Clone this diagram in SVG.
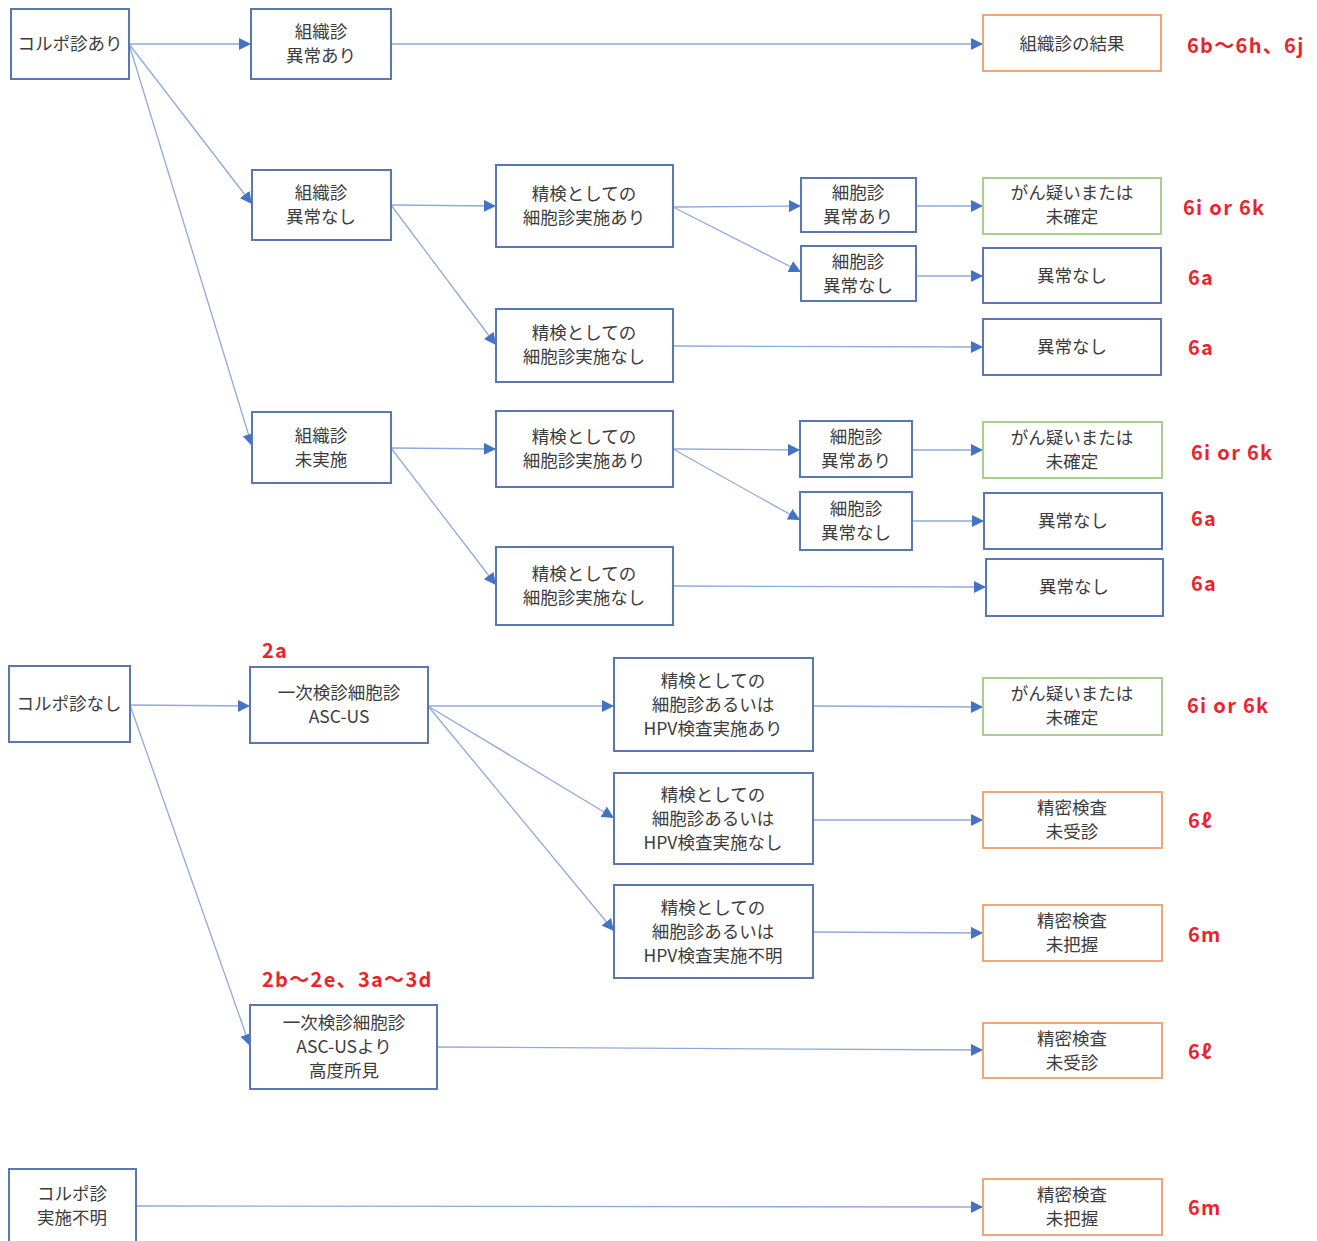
<svg xmlns="http://www.w3.org/2000/svg" width="1317" height="1241" viewBox="0 0 1317 1241">
<defs>
<marker id="arr" markerUnits="userSpaceOnUse" markerWidth="13" markerHeight="12" refX="12" refY="6" orient="auto">
<path d="M0,0 L12,6 L0,12 Z" fill="#4472c4"/>
</marker>
<style>
.n{fill:#fff;stroke:#5a78b0;stroke-width:2}
.g{fill:#fff;stroke:#a9cf8e;stroke-width:2}
.o{fill:#fff;stroke:#f0a67a;stroke-width:2}
.t{font-family:"Noto Sans CJK JP","Noto Sans",sans-serif;font-size:17.5px;fill:#3c3c3c;text-anchor:middle}
.r{font-family:"Noto Sans CJK JP","Noto Sans",sans-serif;font-size:20px;font-weight:bold;fill:#e8252e;letter-spacing:1.3px}
.c{fill:none;stroke:#8faadc;stroke-width:1.3;marker-end:url(#arr)}
</style>
</defs>
<rect width="1317" height="1241" fill="#fff"/>

<g id="connectors">
<line class="c" x1="129" y1="44" x2="251" y2="44"/>
<line class="c" x1="129" y1="44" x2="252" y2="204"/>
<line class="c" x1="129" y1="44" x2="252" y2="446"/>
<line class="c" x1="391" y1="44" x2="983" y2="44"/>
<line class="c" x1="391" y1="205" x2="496" y2="206"/>
<line class="c" x1="391" y1="205" x2="496" y2="345"/>
<line class="c" x1="673" y1="207" x2="801" y2="206"/>
<line class="c" x1="673" y1="207" x2="801" y2="272"/>
<line class="c" x1="916" y1="206" x2="983" y2="206"/>
<line class="c" x1="916" y1="276" x2="983" y2="276"/>
<line class="c" x1="673" y1="346" x2="983" y2="347"/>
<line class="c" x1="391" y1="448" x2="496" y2="449"/>
<line class="c" x1="391" y1="448" x2="496" y2="585"/>
<line class="c" x1="673" y1="449" x2="800" y2="450"/>
<line class="c" x1="673" y1="449" x2="800" y2="520"/>
<line class="c" x1="912" y1="450" x2="983" y2="450"/>
<line class="c" x1="912" y1="521" x2="984" y2="521"/>
<line class="c" x1="673" y1="586" x2="986" y2="587"/>
<line class="c" x1="130" y1="705" x2="250" y2="706"/>
<line class="c" x1="130" y1="705" x2="250" y2="1046"/>
<line class="c" x1="428" y1="706" x2="614" y2="706"/>
<line class="c" x1="428" y1="706" x2="614" y2="818"/>
<line class="c" x1="428" y1="706" x2="614" y2="931"/>
<line class="c" x1="813" y1="706" x2="983" y2="707"/>
<line class="c" x1="813" y1="820" x2="983" y2="820"/>
<line class="c" x1="813" y1="932" x2="983" y2="933"/>
<line class="c" x1="437" y1="1047" x2="983" y2="1050"/>
<line class="c" x1="136" y1="1206" x2="983" y2="1207"/>
</g>

<g id="n1"><rect class="n" x="11" y="9" width="118" height="70"/><text class="t" x="70" y="50">コルポ診あり</text></g>
<g id="n2"><rect class="n" x="251" y="9" width="140" height="70"/><text class="t" x="321" y="38">組織診</text><text class="t" x="321" y="62">異常あり</text></g>
<g id="n3"><rect class="o" x="983" y="15" width="178" height="56"/><text class="t" x="1072" y="50">組織診の結果</text></g>
<g id="n4"><rect class="n" x="252" y="170" width="139" height="70"/><text class="t" x="321" y="199">組織診</text><text class="t" x="321" y="223">異常なし</text></g>
<g id="n5"><rect class="n" x="496" y="165" width="177" height="82"/><text class="t" x="584" y="200">精検としての</text><text class="t" x="584" y="224">細胞診実施あり</text></g>
<g id="n6"><rect class="n" x="801" y="178" width="115" height="54"/><text class="t" x="858" y="199">細胞診</text><text class="t" x="858" y="223">異常あり</text></g>
<g id="n7"><rect class="n" x="801" y="246" width="115" height="55"/><text class="t" x="858" y="268">細胞診</text><text class="t" x="858" y="292">異常なし</text></g>
<g id="n8"><rect class="g" x="983" y="178" width="178" height="56"/><text class="t" x="1072" y="199">がん疑いまたは</text><text class="t" x="1072" y="223">未確定</text></g>
<g id="n9"><rect class="n" x="983" y="248" width="178" height="55"/><text class="t" x="1072" y="282">異常なし</text></g>
<g id="n10"><rect class="n" x="496" y="309" width="177" height="73"/><text class="t" x="584" y="339">精検としての</text><text class="t" x="584" y="363">細胞診実施なし</text></g>
<g id="n11"><rect class="n" x="983" y="319" width="178" height="56"/><text class="t" x="1072" y="353">異常なし</text></g>
<g id="n12"><rect class="n" x="252" y="412" width="139" height="71"/><text class="t" x="321" y="442">組織診</text><text class="t" x="321" y="466">未実施</text></g>
<g id="n13"><rect class="n" x="496" y="411" width="177" height="76"/><text class="t" x="584" y="443">精検としての</text><text class="t" x="584" y="467">細胞診実施あり</text></g>
<g id="n14"><rect class="n" x="800" y="421" width="112" height="56"/><text class="t" x="856" y="443">細胞診</text><text class="t" x="856" y="467">異常あり</text></g>
<g id="n15"><rect class="n" x="800" y="492" width="112" height="58"/><text class="t" x="856" y="515">細胞診</text><text class="t" x="856" y="539">異常なし</text></g>
<g id="n16"><rect class="g" x="983" y="422" width="179" height="56"/><text class="t" x="1072" y="444">がん疑いまたは</text><text class="t" x="1072" y="468">未確定</text></g>
<g id="n17"><rect class="n" x="984" y="493" width="178" height="56"/><text class="t" x="1073" y="527">異常なし</text></g>
<g id="n18"><rect class="n" x="496" y="547" width="177" height="78"/><text class="t" x="584" y="580">精検としての</text><text class="t" x="584" y="604">細胞診実施なし</text></g>
<g id="n19"><rect class="n" x="986" y="559" width="177" height="57"/><text class="t" x="1074" y="593">異常なし</text></g>

<g id="n20"><rect class="n" x="9" y="666" width="121" height="76"/><text class="t" x="69" y="710">コルポ診なし</text></g>
<g id="n21"><rect class="n" x="250" y="667" width="178" height="76"/><text class="t" x="339" y="699">一次検診細胞診</text><text class="t" x="339" y="723">ASC-US</text></g>
<g id="n22"><rect class="n" x="614" y="658" width="199" height="93"/><text class="t" x="713" y="687">精検としての</text><text class="t" x="713" y="711">細胞診あるいは</text><text class="t" x="713" y="735">HPV検査実施あり</text></g>
<g id="n23"><rect class="g" x="983" y="678" width="179" height="57"/><text class="t" x="1072" y="700">がん疑いまたは</text><text class="t" x="1072" y="724">未確定</text></g>
<g id="n24"><rect class="n" x="614" y="773" width="199" height="91"/><text class="t" x="713" y="801">精検としての</text><text class="t" x="713" y="825">細胞診あるいは</text><text class="t" x="713" y="849">HPV検査実施なし</text></g>
<g id="n25"><rect class="o" x="983" y="792" width="179" height="56"/><text class="t" x="1072" y="814">精密検査</text><text class="t" x="1072" y="838">未受診</text></g>
<g id="n26"><rect class="n" x="614" y="885" width="199" height="93"/><text class="t" x="713" y="914">精検としての</text><text class="t" x="713" y="938">細胞診あるいは</text><text class="t" x="713" y="962">HPV検査実施不明</text></g>
<g id="n27"><rect class="o" x="983" y="905" width="179" height="56"/><text class="t" x="1072" y="927">精密検査</text><text class="t" x="1072" y="951">未把握</text></g>
<g id="n28"><rect class="n" x="250" y="1005" width="187" height="84"/><text class="t" x="344" y="1029">一次検診細胞診</text><text class="t" x="344" y="1053">ASC-USより</text><text class="t" x="344" y="1077">高度所見</text></g>
<g id="n29"><rect class="o" x="983" y="1023" width="179" height="55"/><text class="t" x="1072" y="1045">精密検査</text><text class="t" x="1072" y="1069">未受診</text></g>
<g id="n30"><rect class="n" x="9" y="1169" width="127" height="80"/><text class="t" x="72" y="1200">コルポ診</text><text class="t" x="72" y="1224">実施不明</text></g>
<g id="n31"><rect class="o" x="983" y="1179" width="179" height="56"/><text class="t" x="1072" y="1201">精密検査</text><text class="t" x="1072" y="1225">未把握</text></g>

<g id="labels">
<text class="r" x="1187" y="53">6b～6h、6j</text>
<text class="r" x="1183" y="215">6i or 6k</text>
<text class="r" x="1188" y="285">6a</text>
<text class="r" x="1188" y="355">6a</text>
<text class="r" x="1191" y="460">6i or 6k</text>
<text class="r" x="1191" y="526">6a</text>
<text class="r" x="1191" y="591">6a</text>
<text class="r" x="262" y="658">2a</text>
<text class="r" x="1187" y="713">6i or 6k</text>
<text class="r" x="1188" y="828">6ℓ</text>
<text class="r" x="1188" y="942">6m</text>
<text class="r" x="262" y="987">2b～2e、3a～3d</text>
<text class="r" x="1188" y="1059">6ℓ</text>
<text class="r" x="1188" y="1215">6m</text>
</g>
</svg>
